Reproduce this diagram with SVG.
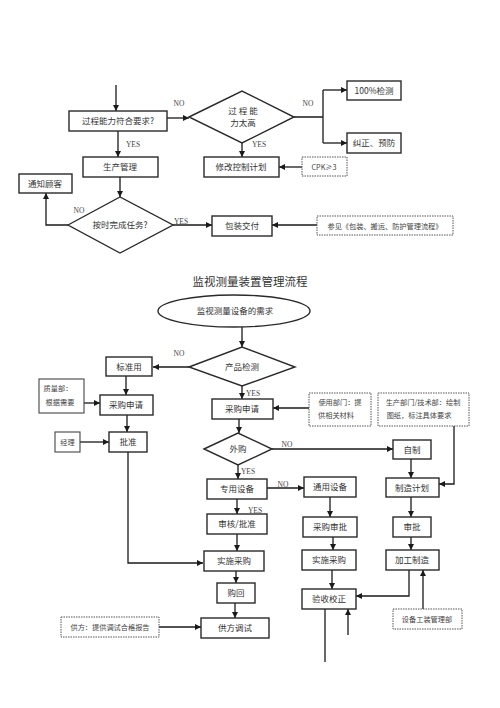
<svg xmlns="http://www.w3.org/2000/svg" width="500" height="708" viewBox="0 0 500 708">
<defs>
<marker id="ah" markerUnits="userSpaceOnUse" markerWidth="7" markerHeight="7" refX="6" refY="3" orient="auto"><path d="M0,0 L6,3 L0,6 z" fill="#1a1a1a"/></marker>
</defs>
<style>
.b{fill:#fff;stroke:#2a2a2a;stroke-width:1.4}
.d{fill:#fff;stroke:#555;stroke-width:1;stroke-dasharray:1.5 1}
.s{fill:#fff;stroke:#444;stroke-width:1.1}
.t{font-family:"Noto Sans CJK SC","Noto Sans",sans-serif;font-size:8.5px;fill:#333;text-anchor:middle}
.sm{font-family:"Noto Sans CJK SC","Noto Sans",sans-serif;font-size:7.2px;fill:#444;text-anchor:middle}
.l{font-family:"Liberation Serif",serif;font-size:7.5px;fill:#444;text-anchor:middle}
.c path{fill:none;stroke:#1a1a1a;stroke-width:1.3;marker-end:url(#ah)}
.c path.n{marker-end:none}
</style>
<rect width="500" height="708" fill="#fff"/>
<g class="c">
<path d="M116,85 V111"/>
<path d="M167,118 H189"/>
<path class="n" d="M294,117 H323 M323,90 V143"/>
<path d="M323,90 H347"/>
<path d="M323,143 H347"/>
<path d="M242,143 V157"/>
<path d="M302,167 H279"/>
<path d="M118,131 V157"/>
<path d="M120,177 V197"/>
<path d="M68,225 H46 V193"/>
<path d="M173,225 H212"/>
<path d="M317,225 H272"/>
<path d="M242,327 V347"/>
<path d="M189,367 H153"/>
<path d="M126,376 V395"/>
<path d="M84,403 H100"/>
<path d="M127,415 V432"/>
<path d="M80,442 H109"/>
<path d="M128,452 V563 H203"/>
<path d="M242,386 V399"/>
<path d="M309,408 H273"/>
<path d="M454,426 V484 H439"/>
<path d="M239,419 V433"/>
<path d="M272,449 H393"/>
<path d="M411,459 V478"/>
<path d="M411,497 V517"/>
<path d="M411,537 V550"/>
<path d="M409,570 V596 H356"/>
<path d="M423,609 V570"/>
<path d="M238,465 V479"/>
<path d="M267,488 H304"/>
<path d="M237,499 V514"/>
<path d="M237,534 V551"/>
<path d="M236,571 V583"/>
<path d="M235,603 V618"/>
<path d="M159,627 H201"/>
<path d="M330,497 V517"/>
<path d="M333,537 V550"/>
<path d="M332,570 V589"/>
<path class="n" d="M325,609 V662"/>
<path d="M348,635 V609"/>
</g>
<g id="labels">
<text class="l" x="179" y="106">NO</text>
<text class="l" x="308" y="106">NO</text>
<text class="l" x="259" y="147">YES</text>
<text class="l" x="133" y="147">YES</text>
<text class="l" x="79" y="213">NO</text>
<text class="l" x="181" y="224">YES</text>
<text class="l" x="179" y="356">NO</text>
<text class="l" x="253" y="396">YES</text>
<text class="l" x="287" y="447">NO</text>
<text class="l" x="248" y="474">YES</text>
<text class="l" x="283" y="487">NO</text>
<text class="l" x="255" y="513">YES</text>
</g>
<g id="n1"><rect class="b" x="69" y="111" width="98" height="20"/><text class="t" x="118" y="124">过程能力符合要求?</text></g>
<g id="n2"><path class="b" d="M189,117 L242,91 L294,117 L242,143 z"/><text class="t" x="243" y="114">过 程 能</text><text class="t" x="243" y="126">力太高</text></g>
<g id="n3"><rect class="b" x="347" y="81" width="54" height="19"/><text class="t" x="374" y="93.5">100%检测</text></g>
<g id="n4"><rect class="b" x="347" y="133" width="54" height="20"/><text class="t" x="374" y="146">纠正、预防</text></g>
<g id="n5"><rect class="b" x="204" y="157" width="75" height="20"/><text class="t" x="241" y="170">修改控制计划</text></g>
<g id="n6"><rect class="d" x="302" y="157" width="45" height="19"/><text class="sm" x="324" y="169.5">CPK≥3</text></g>
<g id="n7"><rect class="b" x="83" y="157" width="75" height="20"/><text class="t" x="120" y="170">生产管理</text></g>
<g id="n8"><rect class="b" x="19" y="174" width="53" height="19"/><text class="t" x="45" y="186.5">通知顾客</text></g>
<g id="n9"><path class="b" d="M68,225 L120,197 L173,225 L120,253 z"/><text class="t" x="120" y="228">按时完成任务?</text></g>
<g id="n10"><rect class="b" x="212" y="216" width="60" height="20"/><text class="t" x="242" y="229">包装交付</text></g>
<g id="n11"><rect class="d" x="317" y="216" width="136" height="19"/><text class="sm" x="385" y="228.5">参见《包装、搬运、防护管理流程》</text></g>
<g id="title"><text x="250" y="286" style="font-family:'Noto Sans CJK SC',sans-serif;font-size:11.5px;fill:#333;text-anchor:middle">监视测量装置管理流程</text></g>
<g id="m1"><ellipse class="b" cx="234" cy="311" rx="76" ry="16"/><text class="t" x="235" y="314">监视测量设备的需求</text></g>
<g id="m2"><path class="b" d="M189,367 L242,347 L295,367 L242,386 z"/><text class="t" x="242" y="370">产品检测</text></g>
<g id="m3"><rect class="b" x="106" y="357" width="46" height="19"/><text class="t" x="129" y="369.5">标准用</text></g>
<g id="m4"><rect class="s" x="39" y="379" width="45" height="34"/><text class="sm" x="58" y="391">质量部：</text><text class="sm" x="60" y="405">根据需要</text></g>
<g id="m5"><rect class="b" x="100" y="395" width="53" height="20"/><text class="t" x="126" y="408">采购申请</text></g>
<g id="m6"><rect class="s" x="55" y="432" width="25" height="20"/><text class="sm" x="67.5" y="445">经理</text></g>
<g id="m7"><rect class="b" x="109" y="432" width="38" height="20"/><text class="t" x="128" y="445">批准</text></g>
<g id="m8"><rect class="b" x="212" y="399" width="61" height="20"/><text class="t" x="242" y="412">采购申请</text></g>
<g id="m9"><rect class="d" x="309" y="393" width="62" height="33"/><text class="sm" x="340" y="405">使用部门：提</text><text class="sm" x="336" y="418">供相关材料</text></g>
<g id="m10"><rect class="d" x="378" y="393" width="91" height="33"/><text class="sm" x="423" y="405">生产部门/技术部：绘制</text><text class="sm" x="419" y="418">图纸，标注具体要求</text></g>
<g id="m11"><path class="b" d="M204,449 L238,433 L272,449 L238,465 z"/><text class="t" x="238" y="452">外购</text></g>
<g id="m12"><rect class="b" x="393" y="440" width="38" height="19"/><text class="t" x="412" y="452.5">自制</text></g>
<g id="m13"><rect class="b" x="386" y="478" width="53" height="19"/><text class="t" x="412" y="490.5">制造计划</text></g>
<g id="m14"><rect class="b" x="393" y="517" width="38" height="20"/><text class="t" x="412" y="530">审批</text></g>
<g id="m15"><rect class="b" x="386" y="550" width="53" height="20"/><text class="t" x="412" y="563">加工制造</text></g>
<g id="m16"><rect class="d" x="393" y="609" width="69" height="20"/><text class="sm" x="427" y="621.5">设备工装管理部</text></g>
<g id="m17"><rect class="b" x="207" y="479" width="60" height="20"/><text class="t" x="237" y="492">专用设备</text></g>
<g id="m18"><rect class="b" x="304" y="477" width="52" height="20"/><text class="t" x="330" y="490">通用设备</text></g>
<g id="m19"><rect class="b" x="207" y="514" width="60" height="20"/><text class="t" x="237" y="527">审核/批准</text></g>
<g id="m20"><rect class="b" x="303" y="517" width="54" height="20"/><text class="t" x="330" y="530">采购审批</text></g>
<g id="m21"><rect class="b" x="204" y="551" width="60" height="20"/><text class="t" x="234" y="564">实施采购</text></g>
<g id="m22"><rect class="b" x="302" y="550" width="54" height="20"/><text class="t" x="329" y="563">实施采购</text></g>
<g id="m23"><rect class="b" x="217" y="583" width="38" height="20"/><text class="t" x="236" y="596">购回</text></g>
<g id="m24"><rect class="b" x="302" y="589" width="54" height="20"/><text class="t" x="329" y="602">验收校正</text></g>
<g id="m25"><rect class="b" x="201" y="618" width="68" height="20"/><text class="t" x="235" y="631">供方调试</text></g>
<g id="m26"><rect class="d" x="61" y="617" width="98" height="20"/><text class="sm" x="110" y="629.5">供方：提供调试合格报告</text></g>
</svg>
